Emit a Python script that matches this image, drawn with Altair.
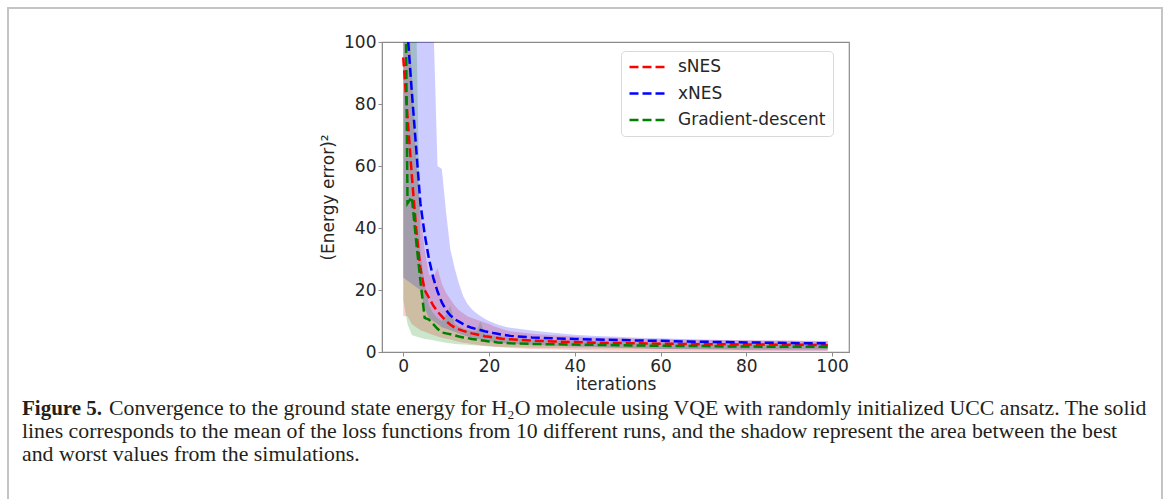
import altair as alt
import pandas as pd

# ---------------- data ----------------
iterations = list(range(0, 26)) + [30, 35, 40, 45, 50, 55, 60, 65, 70, 75, 80, 85, 90, 95, 99]

methods = ["sNES", "xNES", "Gradient-descent"]
colors = ["#ff0000", "#0000ff", "#008000"]

snes_mean = [95, 76, 57, 40, 27, 20, 17.5, 15, 13, 11.5, 10, 8.8, 7.9, 7.3, 6.8, 6.4, 6.0, 5.7, 5.4, 5.1,
             4.9, 4.7, 4.5, 4.3, 4.2, 4.1, 3.7, 3.4, 3.2, 3.0, 2.9, 2.8, 2.7, 2.6, 2.5, 2.5, 2.4, 2.4, 2.3, 2.3, 2.2]
snes_min = [11.5, 11.5, 9, 8, 7, 6.5, 6, 5.5, 5, 4.6, 4.3, 4.0, 3.6, 3.3, 3.0, 2.8, 2.6, 2.4, 2.2, 2.0,
            1.9, 1.7, 1.6, 1.5, 1.4, 1.3, 1.0, 0.8, 0.6, 0.5, 0.4, 0.35, 0.3, 0.3, 0.3, 0.3, 0.3, 0.3, 0.3, 0.3, 0.3]
snes_max = [160, 120, 90, 62, 45, 33, 25, 24, 27, 22, 19, 17, 15, 13.5, 12.5, 11.5, 11, 10.5, 10, 9.5,
            9.0, 8.4, 7.9, 7.4, 7.0, 6.7, 5.9, 5.4, 5.0, 4.7, 4.5, 4.3, 4.1, 4.0, 3.9, 3.8, 3.8, 3.7, 3.7, 3.6, 3.6]

xnes_mean = [230, 103, 84, 66, 48, 38, 30, 24, 19.5, 16, 13.5, 11.8, 10.6, 9.8, 9.0, 8.3, 7.8, 7.4, 7.1, 6.7,
             6.4, 6.1, 5.9, 5.6, 5.4, 5.2, 4.7, 4.4, 4.2, 4.0, 3.9, 3.7, 3.6, 3.4, 3.3, 3.2, 3.1, 3.0, 2.9, 2.8, 2.8]
xnes_min = [24, 23, 22, 21, 20, 14, 11, 10, 9, 8, 7.5, 7, 6.5, 6, 5.5, 5, 4.6, 4.3, 4.0, 3.7,
            3.5, 3.3, 3.1, 2.9, 2.8, 2.7, 2.3, 2.0, 1.8, 1.6, 1.4, 1.2, 1.0, 0.9, 0.8, 0.7, 0.6, 0.6, 0.5, 0.5, 0.5]
xnes_max = [400, 300, 250, 200, 170, 150, 130, 108, 60, 59, 45, 33, 27, 22, 18, 15.5, 13.8, 12.6, 11.6, 10.7,
            10.0, 9.4, 8.9, 8.5, 8.1, 7.8, 6.9, 6.2, 5.6, 5.2, 4.9, 4.6, 4.4, 4.2, 4.0, 3.9, 3.8, 3.7, 3.6, 3.5, 3.5]

gd_mean = [200, 48, 50, 36, 23, 11, 10.5, 9, 7.5, 6.3, 6.0, 5.7, 5.4, 5.0, 4.7, 4.5, 4.2, 4.0, 3.8, 3.6,
           3.4, 3.3, 3.1, 3.0, 2.9, 2.8, 2.6, 2.5, 2.4, 2.3, 2.2, 2.1, 2.0, 1.9, 1.9, 1.8, 1.8, 1.7, 1.7, 1.7, 1.6]
gd_min = [17, 9, 5.5, 5, 4.6, 4.2, 4.0, 3.8, 3.5, 3.2, 3.0, 2.8, 2.6, 2.5, 2.4, 2.3, 2.2, 2.1, 2.0, 1.9,
          1.8, 1.75, 1.7, 1.65, 1.6, 1.6, 1.4, 1.3, 1.2, 1.15, 1.1, 1.05, 1.0, 1.0, 0.95, 0.95, 0.9, 0.9, 0.9, 0.9, 0.9]
gd_max = [300, 250, 180, 110, 32, 22, 15, 12.5, 11, 10, 12, 15, 9, 8.2, 7.6, 7.2, 6.8, 6.6, 9.8, 6.0,
          5.7, 5.4, 5.2, 5.0, 4.8, 4.6, 4.1, 3.8, 3.6, 3.4, 3.3, 3.1, 3.0, 2.9, 2.8, 2.8, 2.7, 2.6, 2.6, 2.5, 2.5]

x_ticks = [0, 20, 40, 60, 80, 100]
y_ticks = [0, 20, 40, 60, 80, 100]

caption_bold = "Figure 5."
caption_1 = "Convergence to the ground state energy for H\u2082O molecule using VQE with randomly initialized UCC ansatz. The solid"
caption_2 = "lines corresponds to the mean of the loss functions from 10 different runs, and the shadow represent the area between the best"
caption_3 = "and worst values from the simulations."

# ---------------- table ----------------
rows = []
series = {
    "sNES": (snes_mean, snes_min, snes_max),
    "xNES": (xnes_mean, xnes_min, xnes_max),
    "Gradient-descent": (gd_mean, gd_min, gd_max),
}
for m in methods:
    mean, lo, hi = series[m]
    for i, it in enumerate(iterations):
        rows.append({"iteration": it, "method": m, "mean": mean[i], "lo": lo[i], "hi": hi[i]})
df = pd.DataFrame(rows)

# ---------------- layout ----------------
W, H = 467, 310
PL, PT = 382, 42
PR, PB = 1167 - PL - W, 499 - PT - H

xscale = alt.Scale(domain=[-4.95, 103.95], nice=False, zero=False)
yscale = alt.Scale(domain=[0, 100], nice=False, zero=False)
cscale = alt.Scale(domain=methods, range=colors)

base = alt.Chart(df)

band_layers = []
for m, c in zip(methods, colors):
    band_layers.append(
        base.transform_filter(alt.datum.method == m).mark_area(
            clip=True, fillOpacity=0.2, strokeWidth=0, fill=c).encode(
            x=alt.X("iteration:Q", scale=xscale,
                    axis=alt.Axis(values=x_ticks, title="iterations", labelFlush=False, titlePadding=2)),
            y=alt.Y("lo:Q", scale=yscale,
                    axis=alt.Axis(values=y_ticks, title="(Energy error)\u00b2", titlePadding=6)),
            y2="hi:Q",
        )
    )

lines = base.mark_line(clip=True, strokeDash=[9, 4], strokeWidth=2.5).encode(
    x=alt.X("iteration:Q", scale=xscale),
    y=alt.Y("mean:Q", scale=yscale),
    color=alt.Color("method:N", scale=cscale, sort=methods, legend=alt.Legend(
        title=None, orient="none", legendX=239, legendY=9,
        symbolType="stroke", symbolDash=[9, 4], symbolStrokeWidth=2.5, symbolSize=1225,
        labelFont="DejaVu Sans", labelFontSize=17, labelColor="#262626", labelOffset=12,
        clipHeight=18, rowPadding=8.5,
        strokeColor="#d9d9d9", cornerRadius=4, padding=7, fillColor="#ffffff")),
)

frame = alt.Chart(pd.DataFrame({"a": [0]})).mark_rect(
    fillOpacity=0, stroke="#c4c4c4", strokeWidth=2).encode(
    x=alt.value(8 - PL), x2=alt.value(1162 - PL), y=alt.value(8 - PT), y2=alt.value(540 - PT))


def caption(s, x, y, bold=False):
    return alt.Chart(pd.DataFrame({"t": [s]})).mark_text(
        align="left", baseline="alphabetic", font="Liberation Serif",
        fontSize=21 if bold else 21.8,
        fontWeight="bold" if bold else "normal", color="#231f20").encode(
        text="t:N", x=alt.value(x - PL), y=alt.value(y - PT))


cap = [
    caption(caption_bold, 22, 415, bold=True),
    caption(caption_1, 109, 415),
    caption(caption_2, 22, 438),
    caption(caption_3, 22, 461),
]

chart = alt.layer(frame, *band_layers, lines, *cap).properties(
    width=W, height=H,
    padding={"left": PL, "top": PT, "right": PR, "bottom": PB},
    autosize=alt.AutoSizeParams(type="none"),
    background="white",
).configure_view(stroke="#8c8c8c", strokeWidth=1.2).configure_axis(
    grid=False, domainColor="#8c8c8c", tickColor="#8c8c8c", tickSize=4,
    labelFont="DejaVu Sans", labelFontSize=17, labelColor="#262626", labelPadding=2,
    titleFont="DejaVu Sans", titleFontSize=17, titleFontWeight="normal", titleColor="#262626",
)

chart.save("out.html", embed_options={"renderer": "svg", "actions": False})
